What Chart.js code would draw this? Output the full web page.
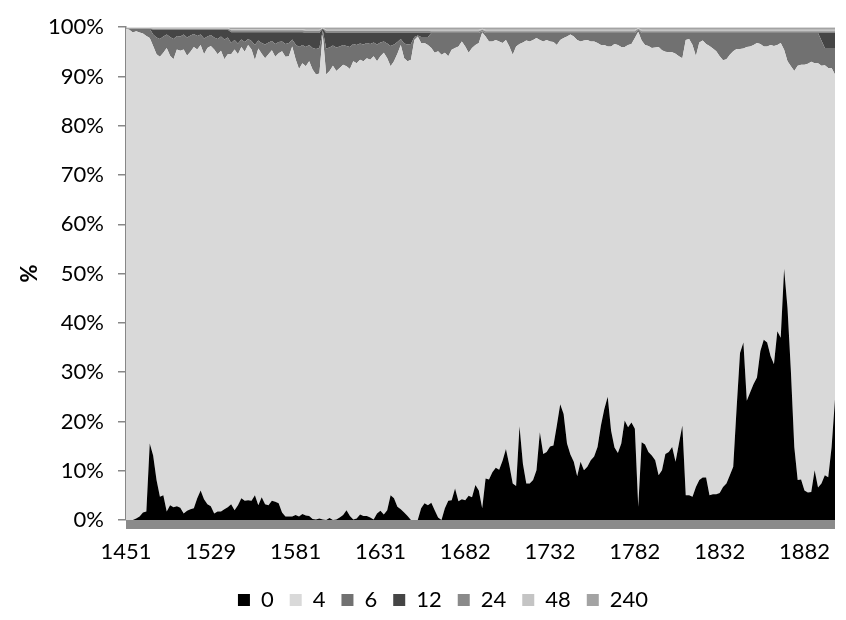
<!DOCTYPE html>
<html>
<head>
<meta charset="utf-8">
<script src="https://cdn.jsdelivr.net/npm/chart.js@4.4.1/dist/chart.umd.min.js"></script>
<style>
html,body{margin:0;padding:0;background:#fff;overflow:hidden}
#wrap{width:846px;height:620px;position:relative}
</style>
</head>
<body>
<div id="wrap"><canvas id="c" width="846" height="620"></canvas></div>
<script>
const years = [
1451,1454,1457,1460,1463,1467,1470,1473,1476,1479,1482,1485,1488,1492,1495,1498,1501,1504,1507,1510,1513,1516,1520,1523,1526,1529,
1531,1533,1535,1537,1539,1541,1543,1545,1547,1549,1551,1553,1556,1558,1560,1562,1564,1566,1568,1570,1572,1574,1576,1578,1581,
1583,1585,1587,1589,1591,1593,1595,1597,1599,1601,1603,1605,1607,1609,1611,1613,1615,1617,1619,1621,1623,1625,1627,1629,1631,
1633,1635,1637,1639,1641,1643,1645,1647,1649,1651,1653,1655,1657,1659,1661,1663,1665,1667,1669,1671,1673,1675,1677,1679,1682,
1684,1686,1688,1690,1692,1694,1696,1698,1700,1702,1704,1706,1708,1710,1712,1714,1716,1718,1720,1722,1724,1726,1728,1730,1732,
1734,1736,1738,1740,1742,1744,1746,1748,1750,1752,1754,1756,1758,1760,1762,1764,1766,1768,1770,1772,1774,1776,1778,1780,1782,
1784,1786,1788,1790,1792,1794,1796,1798,1800,1802,1804,1806,1808,1810,1812,1814,1816,1818,1820,1822,1824,1826,1828,1830,1832,
1834,1836,1838,1840,1842,1844,1846,1848,1850,1852,1854,1856,1858,1860,1862,1864,1866,1868,1870,1872,1874,1876,1878,1880,1882,
1884,1886,1888,1890,1892,1894,1896,1898,1900
];
const tickLabels = ['1451','1529','1581','1631','1682','1732','1782','1832','1882'];
const seriesNames = ['0','4','6','12','24','48','240'];
const seriesColors = ['#000000','#d9d9d9','#717171','#454545','#8a8a8a','#c4c4c4','#a3a3a3'];

const s0 = [
0,0,0,0.3,0.7,1.5,1.7,15.5,13.1,8.1,
4.7,5.0,1.7,3.0,2.6,2.8,2.5,1.3,1.9,2.2,
2.4,4.4,6.0,4.2,3.2,2.8,1.3,1.7,1.7,2.2,
2.6,3.2,2.0,3.0,4.4,3.9,4.0,3.9,5.0,3.0,
4.6,3.2,3.0,3.9,3.7,3.4,1.5,0.7,0.7,0.7,
1.0,0.7,1.2,0.9,0.8,0.2,0.1,0.3,0.1,0,
0.4,0,0.1,0.5,1.0,2.0,0.8,0.1,0.3,1.1,
0.8,0.8,0.5,0.1,1.3,1.9,1.1,2.0,5.0,4.4,
2.7,2.2,1.5,0.8,0,0,0,2.4,3.4,3.0,
3.5,2.0,0.5,0,2.4,3.9,4.0,6.4,3.8,4.2,
4.0,4.9,4.6,7.1,6.0,2.4,8.4,8.2,9.7,10.6,
10.2,12.0,14.4,11.1,7.4,6.9,19.0,11.4,7.4,7.4,
8.1,10.1,17.8,13.4,13.8,14.9,15.1,19.2,23.5,21.5,
15.5,13.3,11.8,8.9,11.8,10.1,10.8,12.1,12.9,14.8,
19.2,22.5,25.0,18.1,14.7,13.6,15.5,20.2,18.8,19.8,
18.5,2.7,15.8,15.3,13.8,13.1,12.1,9.1,10.1,13.4,
13.8,14.8,11.8,15.5,19.2,5.0,5.0,4.7,6.7,8.1,
8.6,8.6,5.0,5.2,5.2,5.5,6.7,7.4,9.1,10.8,
22.8,33.9,36.0,24.2,25.9,27.6,28.9,34.3,36.6,36.0,
33.3,31.6,38.3,37.0,51.0,43.0,30.2,14.8,8.1,8.2,
6.0,5.6,5.7,10.1,6.6,7.4,9.1,8.7,14.8,24.5
];
const s4 = [
99.7,99.5,98.9,98.9,98.2,97.2,96.5,82.3,83.1,86.4,
89.3,89.8,94.1,91.2,90.9,92.7,92.7,94.2,92.3,92.8,
93.6,91.1,90.4,90.3,92.6,93.4,94.2,92.8,93.5,91.3,
91.9,91.3,93.5,91.5,91.6,91.1,92.4,91.6,88.3,92.7,
90.0,90.5,91.5,91.4,90.3,91.3,93.6,93.3,93.4,95.4,
92.5,90.8,91.5,91.2,92.3,91.2,90.3,90.3,98.4,90.4,
90.7,92.2,91.0,91.2,91.4,90.1,90.7,93.0,92.4,92.3,
92.3,92.9,92.9,94.0,91.8,92.2,93.7,91.7,87.1,88.7,
91.9,94.2,92.2,92.3,93.4,97.4,98.1,94.4,93.4,93.4,
92.3,92.8,94.6,94.4,92.4,90.2,91.4,89.4,92.3,92.9,
92.1,89.9,91.2,89.3,90.8,96.5,89.7,88.9,87.4,86.8,
86.9,84.8,83.0,85.0,87.0,89.2,77.6,85.5,89.9,89.7,
89.3,87.7,79.6,83.7,83.6,82.2,81.9,77.2,73.9,76.3,
82.6,85.2,86.3,88.5,85.3,87.2,86.6,85.0,84.2,82.0,
77.2,73.9,71.1,78.0,81.9,82.8,80.5,75.8,77.6,76.8,
79.3,96.4,81.5,81.1,82.4,82.7,83.8,86.9,85.2,81.6,
81.1,80.1,82.8,78.6,74.5,92.4,92.6,91.7,87.4,88.8,
88.7,88.0,91.2,90.5,89.9,88.6,86.6,86.1,85.3,84.3,
72.8,61.7,59.7,71.8,70.2,68.8,67.9,62.3,59.5,60.1,
63.1,64.6,58.1,59.8,44.4,50.1,61.9,76.3,84.1,84.2,
86.4,87.0,87.3,82.6,86.1,84.8,83.2,83.0,76.9,65.9
];
const s6 = [
0,0.2,0.8,0.5,0.8,1.0,1.5,1.9,2.3,3.4,
3.6,3.3,2.7,3.8,4.1,2.7,2.9,3.0,3.7,3.3,
2.6,2.7,2.1,3.2,2.3,2.2,2.4,3.1,2.9,4.0,
3.4,2.3,1.9,2.2,1.5,2.0,1.2,1.7,3.1,1.6,
2.2,2.8,2.4,1.9,2.6,2.3,2.0,2.6,2.7,1.4,
3.0,4.5,3.7,3.9,3.3,4.4,5.2,5.2,0.9,5.3,
4.8,4.1,4.8,4.4,4.0,4.1,4.5,3.5,3.7,3.3,
3.4,3.1,3.2,2.8,3.4,2.8,2.3,3.0,4.1,3.4,
2.4,1.2,3.0,3.4,3.2,0.6,0.2,1.2,1.2,1.6,
3.0,4.0,3.7,4.4,4.0,4.7,3.4,3.0,2.7,1.7,
2.7,4.0,3.0,2.4,2.0,0.3,0.7,1.7,1.7,1.4,
1.7,2.0,1.4,2.7,4.4,2.7,2.2,1.9,1.5,1.7,
1.4,1.0,1.4,1.7,1.4,1.7,1.8,2.4,1.4,1.0,
0.7,0.3,0.7,1.4,1.7,1.5,1.4,1.7,1.7,2.0,
2.4,2.4,2.7,2.7,2.2,2.4,2.8,2.8,2.4,2.2,
1.0,0.4,1.5,2.4,2.6,3.0,2.9,2.8,3.5,3.8,
3.9,3.9,4.2,4.7,5.1,1.4,1.2,2.4,4.7,1.9,
1.5,2.2,2.6,3.1,3.7,4.7,5.5,5.3,4.4,3.7,
3.2,3.2,3.1,2.8,2.7,2.4,2.0,2.2,2.7,2.7,
2.4,2.6,2.4,2.0,3.4,5.7,6.7,7.7,6.6,6.4,
6.4,6.2,5.8,6.1,6.1,5.1,3.5,4.1,4.1,5.4
];
const s12 = [
0,0,0,0,0,0,0,0,1.0,1.6,
1.9,1.4,1.0,1.5,1.9,1.3,1.4,1.0,1.6,1.2,
0.9,1.3,1.0,1.8,1.4,1.1,1.6,1.9,1.4,2.0,
1.6,2.2,1.6,2.3,1.5,2.0,1.4,1.8,2.6,1.7,
2.2,2.5,2.1,1.8,2.4,2.0,1.9,2.4,2.2,1.5,
2.5,3.0,2.6,2.8,2.4,3.0,3.2,3.0,0.3,3.1,
2.9,2.5,2.9,2.7,2.4,2.6,2.8,2.2,2.4,2.1,
2.3,2.0,2.2,1.9,2.3,1.9,1.7,2.1,2.6,2.3,
1.8,1.2,2.1,2.3,2.2,0.8,0.5,0.8,0.8,0.8,
0,0,0,0,0,0,0,0,0,0,
0,0,0,0,0,0,0,0,0,0,
0,0,0,0,0,0,0,0,0,0,
0,0,0,0,0,0,0,0,0,0,
0,0,0,0,0,0,0,0,0,0,
0,0,0,0,0,0,0,0,0,0,
0,0,0,0,0,0,0,0,0,0,
0,0,0,0,0,0,0,0,0,0,
0,0,0,0,0,0,0,0,0,0,
0,0,0,0,0,0,0,0,0,0,
0,0,0,0,0,0,0,0,0,0,
0,0,0,0,0,1.5,3.0,3.0,3.0,3.0
];
const s24 = [
0.1,0.1,0.1,0.1,0.1,0.1,0.1,0.1,0.2,0.2,
0.2,0.2,0.2,0.2,0.2,0.2,0.2,0.2,0.2,0.2,
0.2,0.2,0.2,0.2,0.2,0.2,0.2,0.2,0.2,0.2,
0.2,0.4,0.4,0.4,0.4,0.4,0.4,0.4,0.4,0.4,
0.4,0.4,0.4,0.4,0.4,0.4,0.4,0.4,0.4,0.4,
0.4,0.4,0.4,0.5,0.5,0.5,0.5,0.5,0.1,0.5,
0.5,0.5,0.5,0.5,0.5,0.5,0.5,0.5,0.5,0.5,
0.5,0.5,0.5,0.5,0.5,0.5,0.5,0.5,0.5,0.5,
0.5,0.5,0.5,0.5,0.5,0.5,0.5,0.5,0.5,0.5,
0.4,0.4,0.4,0.4,0.4,0.4,0.4,0.4,0.4,0.4,
0.4,0.4,0.4,0.4,0.4,0.3,0.4,0.4,0.4,0.4,
0.4,0.4,0.4,0.4,0.4,0.4,0.4,0.4,0.4,0.4,
0.4,0.4,0.4,0.4,0.4,0.4,0.4,0.4,0.4,0.4,
0.4,0.4,0.4,0.4,0.4,0.4,0.4,0.4,0.4,0.4,
0.4,0.4,0.4,0.4,0.4,0.4,0.4,0.4,0.4,0.4,
0.4,0.2,0.4,0.4,0.4,0.4,0.4,0.4,0.4,0.4,
0.4,0.4,0.4,0.4,0.4,0.4,0.4,0.4,0.4,0.4,
0.4,0.4,0.4,0.4,0.4,0.4,0.4,0.4,0.4,0.4,
0.4,0.4,0.4,0.4,0.4,0.4,0.4,0.4,0.4,0.4,
0.4,0.4,0.4,0.4,0.4,0.4,0.4,0.4,0.4,0.4,
0.4,0.4,0.4,0.4,0.4,0.4,0.4,0.4,0.4,0.4
];
const s48 = [
0.1,0.1,0.1,0.1,0.1,0.1,0.1,0.1,0.1,0.1,
0.1,0.1,0.1,0.1,0.1,0.1,0.1,0.1,0.1,0.1,
0.1,0.1,0.1,0.1,0.1,0.1,0.1,0.1,0.1,0.1,
0.1,0.2,0.2,0.2,0.2,0.2,0.2,0.2,0.2,0.2,
0.2,0.2,0.2,0.2,0.2,0.2,0.2,0.2,0.2,0.2,
0.2,0.2,0.2,0.2,0.2,0.2,0.2,0.2,0.1,0.2,
0.2,0.2,0.2,0.2,0.2,0.2,0.2,0.2,0.2,0.2,
0.2,0.2,0.2,0.2,0.2,0.2,0.2,0.2,0.2,0.2,
0.2,0.2,0.2,0.2,0.2,0.2,0.2,0.2,0.2,0.2,
0.3,0.3,0.3,0.3,0.3,0.3,0.3,0.3,0.3,0.3,
0.3,0.3,0.3,0.3,0.3,0.2,0.3,0.3,0.3,0.3,
0.3,0.3,0.3,0.3,0.3,0.3,0.3,0.3,0.3,0.3,
0.3,0.3,0.3,0.3,0.3,0.3,0.3,0.3,0.3,0.3,
0.3,0.3,0.3,0.3,0.3,0.3,0.3,0.3,0.3,0.3,
0.3,0.3,0.3,0.3,0.3,0.3,0.3,0.3,0.3,0.3,
0.3,0.1,0.3,0.3,0.3,0.3,0.3,0.3,0.3,0.3,
0.3,0.3,0.3,0.3,0.3,0.3,0.3,0.3,0.3,0.3,
0.3,0.3,0.3,0.3,0.3,0.3,0.3,0.3,0.3,0.3,
0.3,0.3,0.3,0.3,0.3,0.3,0.3,0.3,0.3,0.3,
0.3,0.3,0.3,0.3,0.3,0.3,0.3,0.3,0.3,0.3,
0.3,0.3,0.3,0.3,0.3,0.3,0.3,0.3,0.3,0.3
];
const s240 = [
0.1,0.1,0.1,0.1,0.1,0.1,0.1,0.1,0.2,0.2,
0.2,0.2,0.2,0.2,0.2,0.2,0.2,0.2,0.2,0.2,
0.2,0.2,0.2,0.2,0.2,0.2,0.2,0.2,0.2,0.2,
0.2,0.4,0.4,0.4,0.4,0.4,0.4,0.4,0.4,0.4,
0.4,0.4,0.4,0.4,0.4,0.4,0.4,0.4,0.4,0.4,
0.4,0.4,0.4,0.5,0.5,0.5,0.5,0.5,0.1,0.5,
0.5,0.5,0.5,0.5,0.5,0.5,0.5,0.5,0.5,0.5,
0.5,0.5,0.5,0.5,0.5,0.5,0.5,0.5,0.5,0.5,
0.5,0.5,0.5,0.5,0.5,0.5,0.5,0.5,0.5,0.5,
0.5,0.5,0.5,0.5,0.5,0.5,0.5,0.5,0.5,0.5,
0.5,0.5,0.5,0.5,0.5,0.3,0.5,0.5,0.5,0.5,
0.5,0.5,0.5,0.5,0.5,0.5,0.5,0.5,0.5,0.5,
0.5,0.5,0.5,0.5,0.5,0.5,0.5,0.5,0.5,0.5,
0.5,0.5,0.5,0.5,0.5,0.5,0.5,0.5,0.5,0.5,
0.5,0.5,0.5,0.5,0.5,0.5,0.5,0.5,0.5,0.5,
0.5,0.2,0.5,0.5,0.5,0.5,0.5,0.5,0.5,0.5,
0.5,0.5,0.5,0.5,0.5,0.5,0.5,0.5,0.5,0.5,
0.5,0.5,0.5,0.5,0.5,0.5,0.5,0.5,0.5,0.5,
0.5,0.5,0.5,0.5,0.5,0.5,0.5,0.5,0.5,0.5,
0.5,0.5,0.5,0.5,0.5,0.5,0.5,0.5,0.5,0.5,
0.5,0.5,0.5,0.5,0.5,0.5,0.5,0.5,0.5,0.5
];

const FONT = "Lato, 'Open Sans', 'DejaVu Sans', sans-serif";
const FS = 22;
Chart.defaults.font.family = FONT;
Chart.defaults.color = '#000';

const raw = [s0, s4, s6, s12, s24, s48, s240];
// 100% stacking: each category normalised by its total
const totals = years.map((_, i) => raw.reduce((a, s) => a + s[i], 0));
const datasets = raw.map((s, j) => ({
  label: seriesNames[j],
  data: s.map((v, i) => v / totals[i] * 100),
  backgroundColor: seriesColors[j],
  borderColor: seriesColors[j],
  borderWidth: 0,
  pointRadius: 0,
  pointHoverRadius: 0,
  tension: 0,
  fill: j === 0 ? 'origin' : '-1'
}));

const axisBand = {
  id: 'axisBand',
  afterDatasetsDraw(chart) {
    const {ctx, chartArea: a} = chart;
    ctx.save();
    ctx.fillStyle = '#8a8a8a';
    ctx.fillRect(a.left, a.bottom, a.right - a.left, 9);
    ctx.restore();
  }
};
const legendShift = {
  id: 'legendShift',
  afterLayout(chart) {
    const l = chart.legend;
    if (l) { l.left += 20; l.right += 20; }
  }
};

new Chart(document.getElementById('c'), {
  type: 'line',
  data: { labels: years.map(String), datasets },
  plugins: [axisBand, legendShift],
  options: {
    responsive: false,
    animation: false,
    events: [],
    layout: { padding: { top: 24, right: 0, bottom: 0, left: 0 } },
    plugins: {
      tooltip: { enabled: false },
      legend: {
        position: 'bottom',
        maxHeight: 47,
        labels: { boxWidth: 12, boxHeight: 12, padding: 16, color: '#000', font: { size: FS } }
      }
    },
    scales: {
      x: {
        type: 'category',
        offset: false,
        afterFit(s) { s.height = 53; },
        grid: { display: false },
        border: { display: false },
        ticks: {
          autoSkip: false, maxRotation: 0, minRotation: 0, padding: 11,
          color: '#000', font: { size: FS },
          callback(v) { const l = this.getLabelForValue(v); return tickLabels.includes(l) ? l : ''; }
        }
      },
      y: {
        stacked: true,
        min: 0, max: 100,
        z: 1,
        afterFit(s) { s.width = 126; },
        ticks: { stepSize: 10, padding: 14, color: '#000', font: { size: FS }, callback: v => v + '%' },
        grid: { drawOnChartArea: false, tickLength: 8, color: '#878787', lineWidth: 1.5 },
        border: { color: '#878787', width: 1.5 },
        title: { display: true, text: '%', color: '#000', font: { size: FS, weight: 'bold' }, padding: { top: 17, bottom: 0 } }
      }
    }
  }
});
</script>
</body>
</html>
